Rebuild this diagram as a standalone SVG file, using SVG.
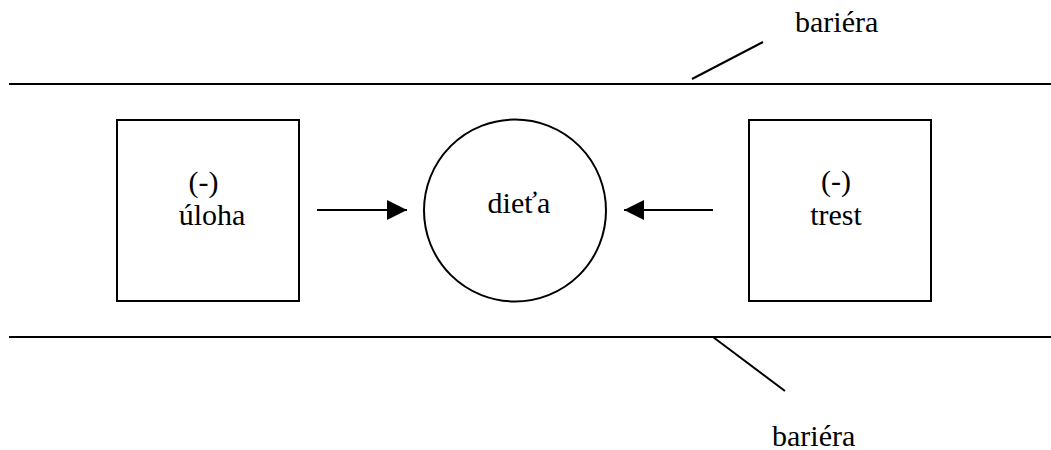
<svg xmlns="http://www.w3.org/2000/svg" width="1051" height="450" viewBox="0 0 1051 450">
  <style>
    .ln { stroke: #000; stroke-width: 2; fill: none; }
    .shape { stroke: #000; stroke-width: 2; fill: #fff; }
    .lbl { font-family: "Times New Roman", Times, Tinos, "Liberation Serif", "DejaVu Serif", "Noto Serif", serif; font-size: 30px; fill: #000; }
  </style>
  <defs>
    <marker id="head" markerUnits="userSpaceOnUse" markerWidth="20" markerHeight="20" refX="20" refY="10" orient="auto">
      <path d="M0,0 L20,10 L0,20 Z" fill="#000"/>
    </marker>
  </defs>
  <rect width="1051" height="450" fill="#fff"/>

  <!-- barriers -->
  <g id="barrier-top">
    <line class="ln" x1="9" y1="84" x2="1051" y2="84"/>
    <line class="ln" x1="692" y1="79" x2="763" y2="42"/>
    <text class="lbl" x="795" y="32">bariéra</text>
  </g>
  <g id="barrier-bottom">
    <line class="ln" x1="9" y1="337" x2="1051" y2="337"/>
    <line class="ln" x1="713" y1="337" x2="785" y2="391"/>
    <text class="lbl" x="772" y="446">bariéra</text>
  </g>

  <!-- nodes -->
  <g id="uloha">
    <rect class="shape" x="117" y="120" width="182" height="181"/>
    <text class="lbl" x="203.5" y="192" text-anchor="middle">(-)</text>
    <text class="lbl" x="212" y="225" text-anchor="middle">úloha</text>
  </g>
  <g id="dieta">
    <circle class="shape" cx="515" cy="210.5" r="91"/>
    <text class="lbl" x="519" y="213" text-anchor="middle">dieťa</text>
  </g>
  <g id="trest">
    <rect class="shape" x="749" y="120" width="182" height="181"/>
    <text class="lbl" x="836" y="191" text-anchor="middle">(-)</text>
    <text class="lbl" x="836" y="225" text-anchor="middle">trest</text>
  </g>

  <!-- connectors -->
  <g id="connectors">
    <line class="ln" x1="317" y1="210" x2="407" y2="210" marker-end="url(#head)"/>
    <line class="ln" x1="713" y1="210" x2="624" y2="210" marker-end="url(#head)"/>
  </g>
</svg>
